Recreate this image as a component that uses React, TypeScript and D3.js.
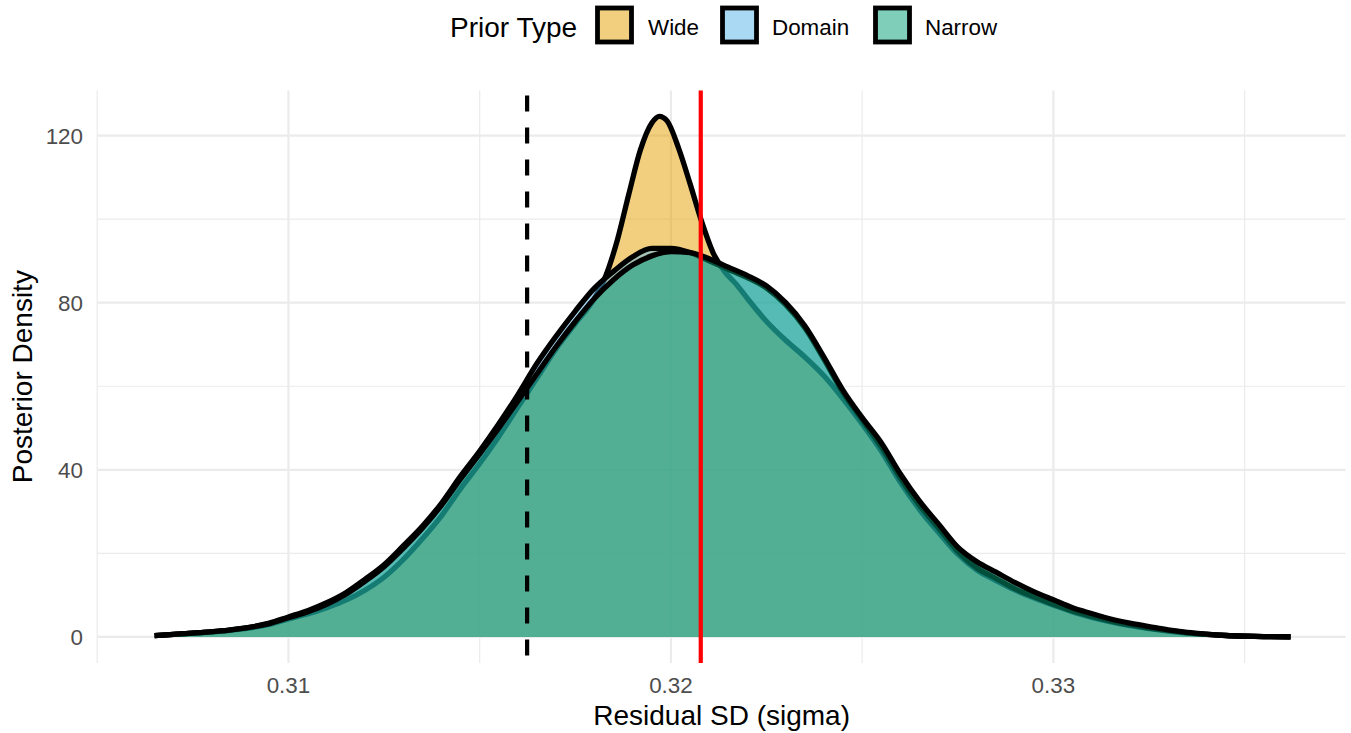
import { useRef, useEffect } from "react";
import * as d3 from "d3";

// prior groups, drawn in this order (Narrow ends up on top)
const priorTypes = ["Wide", "Domain", "Narrow"];
const priorColors = ["#E69F00", "#56B4E9", "#009E73"];

// sigma grid shared by the Domain and Narrow densities
const sharedSigma = [
  0.3065, 0.3075, 0.3085, 0.3095, 0.31, 0.3105, 0.311, 0.3115, 0.312, 0.3125,
  0.313, 0.3135, 0.314, 0.3145, 0.315, 0.3155, 0.316, 0.3165, 0.317, 0.3175,
  0.318, 0.3185, 0.319, 0.3195, 0.32, 0.3205, 0.321, 0.3215, 0.322, 0.3225,
  0.323, 0.3235, 0.324, 0.3245, 0.325, 0.3255, 0.326, 0.3265, 0.327, 0.3275,
  0.328, 0.3285, 0.329, 0.3295, 0.33, 0.3305, 0.331, 0.3315, 0.332, 0.3325,
  0.333, 0.3335, 0.334, 0.3345, 0.335, 0.3355, 0.3362,
];

const domainDensity = [
  0.3, 0.9, 1.7, 3.3, 4.8, 6.3, 8.2, 10.6, 13.8, 17.3,
  21.8, 26.5, 32, 38.5, 44.5, 51, 58, 65.5, 72, 78,
  83.5, 87.5, 91, 93, 93, 92, 90, 88, 86, 83.5,
  79.5, 74, 66.5, 58.5, 52, 45.5, 38, 31.5, 26, 20.5,
  16.5, 14, 11.5, 9.6, 7.8, 6.2, 4.9, 3.8, 2.9, 2.1,
  1.5, 1.0, 0.6, 0.35, 0.2, 0.1, 0.05,
];

const narrowDensity = [
  0.3, 0.9, 1.7, 3.2, 4.6, 6.0, 7.8, 10.2, 13.3, 16.8,
  21.2, 26, 31.5, 37.8, 43.8, 50, 56.5, 63, 69.5, 75.5,
  81, 85.5, 89, 91.2, 92.2, 92, 90.5, 88.5, 86.5, 84,
  80, 74.5, 67, 59, 52.5, 46.5, 39, 32.5, 27, 21.5,
  18, 15.5, 13, 10.8, 8.9, 7, 5.6, 4.3, 3.3, 2.5,
  1.7, 1.1, 0.7, 0.4, 0.2, 0.1, 0.05,
];

// the wide prior has a narrow spike, so it gets a finer grid near the peak
const wideSigma = [
  0.3065, 0.3075, 0.3085, 0.3095, 0.31, 0.3105, 0.311, 0.3115, 0.312, 0.3125,
  0.313, 0.3135, 0.314, 0.3145, 0.315, 0.3155, 0.316, 0.3165, 0.317, 0.3175,
  0.318, 0.3183, 0.3186, 0.3189, 0.3192, 0.3195, 0.3197, 0.3199, 0.3202, 0.3205,
  0.3208, 0.3211, 0.3214, 0.3217, 0.322, 0.3225, 0.323, 0.3235, 0.324, 0.3245,
  0.325, 0.3255, 0.326, 0.3265, 0.327, 0.3275, 0.328, 0.3285, 0.329, 0.3295,
  0.33, 0.3305, 0.331, 0.3315, 0.332, 0.3325, 0.333, 0.3335, 0.334, 0.3345,
  0.335, 0.3355, 0.3362,
];

const wideDensity = [
  0.3, 0.9, 1.6, 3.0, 4.3, 5.5, 7.0, 8.8, 11.2, 14.3,
  18.5, 23.5, 29, 35.5, 41.5, 48, 55, 62, 69, 75,
  81, 86.5, 95, 106, 116.5, 123, 124.6, 123.5, 117, 108.5,
  99.5, 92, 87.5, 84.5, 81, 75.5, 71, 67, 62.5, 57,
  51, 44.5, 37, 30.5, 25, 19.8, 16, 13.5, 11.2, 9.3,
  7.6, 6.0, 4.7, 3.6, 2.7, 2.0, 1.4, 0.9, 0.6, 0.35,
  0.2, 0.1, 0.05,
];

const xTicks = [0.31, 0.32, 0.33];
const xMinorTicks = [0.305, 0.315, 0.325, 0.335];
const yTicks = [0, 40, 80, 120];
const yMinorTicks = [20, 60, 100];

const priorSigma = 0.31624; // dashed reference
const observedSigma = 0.32078; // red reference

const FONT = "'Liberation Sans', Arial, Helvetica, sans-serif";

const App = () => {
  const svgRef = useRef(null);
  const width = 1351;
  const height = 733;

  useEffect(() => {
    const svg = d3.select(svgRef.current);
    svg.selectAll("*").remove();

    // panel box
    const left = 97.6;
    const right = 1345.6;
    const top = 90.4;
    const bottom = 663;

    const x = d3.scaleLinear().domain([0.30501, 0.33764]).range([left, right]);
    const y = d3.scaleLinear().domain([-6.23, 130.8]).range([bottom, top]);

    const grid = svg.append("g");
    // minor grid
    grid
      .selectAll("line.xminor")
      .data(xMinorTicks)
      .join("line")
      .attr("x1", (d) => x(d))
      .attr("x2", (d) => x(d))
      .attr("y1", top)
      .attr("y2", bottom)
      .attr("stroke", "#EBEBEB")
      .attr("stroke-width", 1.2);
    grid
      .selectAll("line.yminor")
      .data(yMinorTicks)
      .join("line")
      .attr("x1", left)
      .attr("x2", right)
      .attr("y1", (d) => y(d))
      .attr("y2", (d) => y(d))
      .attr("stroke", "#EBEBEB")
      .attr("stroke-width", 1.2);
    // major grid
    grid
      .append("g")
      .selectAll("line")
      .data(xTicks)
      .join("line")
      .attr("x1", (d) => x(d))
      .attr("x2", (d) => x(d))
      .attr("y1", top)
      .attr("y2", bottom)
      .attr("stroke", "#EBEBEB")
      .attr("stroke-width", 2.2);
    grid
      .append("g")
      .selectAll("line")
      .data(yTicks)
      .join("line")
      .attr("x1", left)
      .attr("x2", right)
      .attr("y1", (d) => y(d))
      .attr("y2", (d) => y(d))
      .attr("stroke", "#EBEBEB")
      .attr("stroke-width", 2.2);

    // densities
    const series = [
      { sigma: wideSigma, dens: wideDensity },
      { sigma: sharedSigma, dens: domainDensity },
      { sigma: sharedSigma, dens: narrowDensity },
    ];

    const area = d3
      .area()
      .x((d) => x(d[0]))
      .y0(y(0))
      .y1((d) => y(d[1]))
      .curve(d3.curveMonotoneX);
    const line = d3
      .line()
      .x((d) => x(d[0]))
      .y((d) => y(d[1]))
      .curve(d3.curveMonotoneX);

    series.forEach((s, i) => {
      const pts = s.sigma.map((v, j) => [v, s.dens[j]]);
      svg
        .append("path")
        .attr("d", area(pts))
        .attr("fill", priorColors[i])
        .attr("fill-opacity", 0.5);
      svg
        .append("path")
        .attr("d", line(pts))
        .attr("fill", "none")
        .attr("stroke", "#000")
        .attr("stroke-width", 5.3)
        .attr("stroke-linejoin", "round")
        .attr("stroke-linecap", "butt");
    });

    // reference lines
    svg
      .append("line")
      .attr("x1", x(priorSigma))
      .attr("x2", x(priorSigma))
      .attr("y1", top)
      .attr("y2", bottom)
      .attr("stroke", "#000")
      .attr("stroke-width", 4.2)
      .attr("stroke-dasharray", "16 16")
      .attr("stroke-dashoffset", 27);
    svg
      .append("line")
      .attr("x1", x(observedSigma))
      .attr("x2", x(observedSigma))
      .attr("y1", top)
      .attr("y2", bottom)
      .attr("stroke", "#FF0000")
      .attr("stroke-width", 4.2);

    // tick labels
    svg
      .append("g")
      .selectAll("text")
      .data(xTicks)
      .join("text")
      .attr("x", (d) => x(d))
      .attr("y", 693)
      .attr("text-anchor", "middle")
      .attr("font-family", FONT)
      .attr("font-size", 22.4)
      .attr("fill", "#4D4D4D")
      .text((d) => d3.format(".2f")(d));
    svg
      .append("g")
      .selectAll("text")
      .data(yTicks)
      .join("text")
      .attr("x", 83)
      .attr("y", (d) => y(d) + 8)
      .attr("text-anchor", "end")
      .attr("font-family", FONT)
      .attr("font-size", 22.4)
      .attr("fill", "#4D4D4D")
      .text((d) => d);

    // axis titles
    svg
      .append("text")
      .attr("x", (left + right) / 2)
      .attr("y", 725)
      .attr("text-anchor", "middle")
      .attr("font-family", FONT)
      .attr("font-size", 28)
      .attr("fill", "#000")
      .text("Residual SD (sigma)");
    svg
      .append("text")
      .attr("transform", `translate(32,${(top + bottom) / 2}) rotate(-90)`)
      .attr("text-anchor", "middle")
      .attr("font-family", FONT)
      .attr("font-size", 28)
      .attr("fill", "#000")
      .text("Posterior Density");

    // legend
    const legend = svg.append("g");
    legend
      .append("text")
      .attr("x", 450)
      .attr("y", 37)
      .attr("font-family", FONT)
      .attr("font-size", 28)
      .attr("fill", "#000")
      .text("Prior Type");
    const keyX = [614.5, 739.5, 892.5];
    const labelX = [648, 772, 925];
    priorTypes.forEach((p, i) => {
      legend
        .append("rect")
        .attr("x", keyX[i] - 17)
        .attr("y", 25 - 17)
        .attr("width", 34)
        .attr("height", 34)
        .attr("fill", priorColors[i])
        .attr("fill-opacity", 0.5)
        .attr("stroke", "#000")
        .attr("stroke-width", 4.8);
      legend
        .append("text")
        .attr("x", labelX[i])
        .attr("y", 35)
        .attr("font-family", FONT)
        .attr("font-size", 22.4)
        .attr("fill", "#000")
        .text(p);
    });
  }, []);

  return (
    <svg
      ref={svgRef}
      width={width}
      height={height}
      style={{ position: "absolute", left: 0, top: 0, background: "#fff" }}
    ></svg>
  );
};

export default App;
